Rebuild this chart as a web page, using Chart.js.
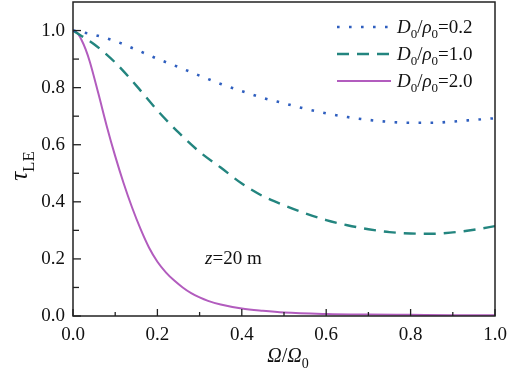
<!DOCTYPE html>
<html>
<head>
<meta charset="utf-8">
<script src="https://cdn.jsdelivr.net/npm/chart.js@4.4.0/dist/chart.umd.min.js"></script>
<style>
  body { margin: 0; background: #fff; }
  #wrap { width: 520px; height: 376px; }
</style>
</head>
<body>
<div id="wrap"><canvas id="tauCanvas"></canvas></div>
<script>
// Ω/Ω0 values for the two slower curves
var omegaCoarse = [0, 0.05, 0.1, 0.15, 0.2, 0.25, 0.3, 0.35, 0.4, 0.45, 0.5,
                   0.55, 0.6, 0.65, 0.7, 0.75, 0.8, 0.85, 0.9, 0.95, 1.0];
// D0/rho0 = 0.2
var tauD02 = [1.0, 0.985, 0.963, 0.933, 0.901, 0.872, 0.842, 0.813, 0.788, 0.764, 0.745,
              0.726, 0.71, 0.697, 0.687, 0.68, 0.677, 0.677, 0.681, 0.687, 0.693];
// D0/rho0 = 1.0
var tauD10 = [1.0, 0.952, 0.888, 0.807, 0.72, 0.643, 0.575, 0.52, 0.464, 0.42, 0.388,
              0.36, 0.336, 0.318, 0.304, 0.294, 0.289, 0.288, 0.293, 0.302, 0.315];
// D0/rho0 = 2.0 drops fast, so it is read on a finer grid
var omegaFine = [0, 0.01, 0.02, 0.03, 0.04, 0.06, 0.08, 0.1, 0.12, 0.14, 0.16, 0.18, 0.2, 0.22, 0.24,
                 0.26, 0.28, 0.3, 0.32, 0.35, 0.4, 0.45, 0.5, 0.6, 0.7, 0.8, 0.9, 1.0];
var tauD20 = [1.0, 0.992, 0.968, 0.934, 0.89, 0.78, 0.665, 0.56, 0.465, 0.38, 0.305, 0.24, 0.19, 0.153, 0.124,
              0.10, 0.08, 0.065, 0.053, 0.04, 0.026, 0.018, 0.012, 0.007, 0.005, 0.004, 0.003, 0.003];

var ratioLabels = ['0.2', '1.0', '2.0'];
var xTicks = [0, 0.1, 0.2, 0.3, 0.4, 0.5, 0.6, 0.7, 0.8, 0.9, 1.0];
var yTicks = [0, 0.1, 0.2, 0.3, 0.4, 0.5, 0.6, 0.7, 0.8, 0.9, 1.0];

var FONT = '"Liberation Serif", "Times New Roman", serif';

function toPoints(xs, ys) {
    var pts = [];
    for (var i = 0; i < xs.length; i++) pts.push({x: xs[i], y: ys[i]});
    return pts;
}

function isMajor(v) {
    return Math.round(v * 10) % 2 === 0;
}

function fontFor(kind, size) {
    if (kind === 's') return Math.round(size * 0.68) + 'px ' + FONT;
    if (kind === 'i') return 'italic ' + size + 'px ' + FONT;
    return size + 'px ' + FONT;
}

// draw text with italic parts and subscripts
function richText(ctx, parts, x, y, size, align) {
    var widths = [], total = 0;
    parts.forEach(function(p) {
        ctx.font = fontFor(p[1], size);
        var w = ctx.measureText(p[0]).width;
        widths.push(w);
        total += w;
    });
    var cx = align === 'center' ? x - total / 2 : x;
    ctx.textAlign = 'left';
    ctx.textBaseline = 'alphabetic';
    parts.forEach(function(p, i) {
        ctx.font = fontFor(p[1], size);
        ctx.fillText(p[0], cx, p[1] === 's' ? y + size * 0.28 : y);
        cx += widths[i];
    });
}

var framePlugin = {
    id: 'frame',
    afterDraw: function(chart) {
        var ctx = chart.ctx;
        var a = chart.chartArea;
        var xs = chart.scales.x, ys = chart.scales.y;
        ctx.save();
        ctx.strokeStyle = '#222';
        ctx.lineWidth = 1.5;
        ctx.strokeRect(a.left, a.top, a.right - a.left, a.bottom - a.top);

        // inward ticks
        ctx.lineWidth = 1.3;
        xTicks.forEach(function(v) {
            var px = xs.getPixelForValue(v);
            var len = isMajor(v) ? 7 : 4;
            ctx.beginPath();
            ctx.moveTo(px, a.bottom);
            ctx.lineTo(px, a.bottom - len);
            ctx.stroke();
        });
        yTicks.forEach(function(v) {
            var py = ys.getPixelForValue(v);
            var len = isMajor(v) ? 8 : 6;
            ctx.beginPath();
            ctx.moveTo(a.left, py);
            ctx.lineTo(a.left + len, py);
            ctx.stroke();
        });

        ctx.fillStyle = '#111';
        // axis titles
        richText(ctx, [['Ω', 'i'], ['/', 'n'], ['Ω', 'i'], ['0', 's']], (a.left + a.right) / 2 + 4, 362, 20, 'center');
        ctx.save();
        ctx.translate(27, 166);
        ctx.rotate(-Math.PI / 2);
        richText(ctx, [['τ', 'i'], ['LE', 's']], 0, 0, 25, 'center');
        ctx.restore();

        // annotation
        richText(ctx, [['z', 'i'], ['=20 m', 'n']], xs.getPixelForValue(0.313), ys.getPixelForValue(0.183), 19, 'left');

        // legend
        var rows = [27, 54, 81];
        chart.data.datasets.forEach(function(ds, i) {
            ctx.save();
            ctx.strokeStyle = ds.borderColor;
            ctx.lineWidth = ds.borderWidth;
            ctx.setLineDash(ds.borderDash || []);
            ctx.beginPath();
            ctx.moveTo(337, rows[i]);
            ctx.lineTo(391, rows[i]);
            ctx.stroke();
            ctx.restore();
            richText(ctx, [['D', 'i'], ['0', 's'], ['/', 'n'], ['ρ', 'i'], ['0', 's'], ['=' + ratioLabels[i], 'n']],
                     397, rows[i] + 6, 19, 'left');
        });
        ctx.restore();
    }
};

var ctx = document.getElementById('tauCanvas');
var tauChart = new Chart(ctx, {
    type: 'line',
    data: {
        datasets: [{
            label: 'D0/rho0=' + ratioLabels[0],
            data: toPoints(omegaCoarse, tauD02),
            borderColor: '#2f5fbf',
            borderWidth: 2.6,
            borderDash: [2.6, 9.4],
            borderCapStyle: 'butt'
        }, {
            label: 'D0/rho0=' + ratioLabels[1],
            data: toPoints(omegaCoarse, tauD10),
            borderColor: '#23857f',
            borderWidth: 2.4,
            borderDash: [12, 8]
        }, {
            label: 'D0/rho0=' + ratioLabels[2],
            data: toPoints(omegaFine, tauD20),
            borderColor: '#b25cbe',
            borderWidth: 2
        }]
    },
    options: {
        responsive: true,
        maintainAspectRatio: false,
        animation: false,
        layout: { padding: { top: 2, right: 25, left: 1, bottom: 0 } },
        elements: {
            point: { radius: 0 },
            line: { cubicInterpolationMode: 'monotone', fill: false }
        },
        plugins: {
            legend: { display: false },
            tooltip: { enabled: false }
        },
        scales: {
            x: {
                type: 'linear',
                min: 0,
                max: 1,
                grid: { display: false, drawTicks: false },
                border: { display: false },
                afterBuildTicks: function(scale) {
                    scale.ticks = xTicks.map(function(v) { return {value: v}; });
                },
                afterFit: function(scale) { scale.height = 60; },
                ticks: {
                    padding: 8,
                    maxRotation: 0,
                    autoSkip: false,
                    color: '#111',
                    font: { family: FONT, size: 19 },
                    callback: function(v) { return isMajor(v) ? v.toFixed(1) : ''; }
                }
            },
            y: {
                min: 0,
                max: 1.1,
                grid: { display: false, drawTicks: false },
                border: { display: false },
                afterBuildTicks: function(scale) {
                    scale.ticks = yTicks.map(function(v) { return {value: v}; });
                },
                afterFit: function(scale) {
                    scale.width = 72;
                    // no extra room above the top label, the frame sits at the top edge
                    scale.paddingTop = 0;
                    scale.paddingBottom = 0;
                },
                ticks: {
                    padding: 8,
                    autoSkip: false,
                    color: '#111',
                    font: { family: FONT, size: 19 },
                    callback: function(v) { return isMajor(v) ? v.toFixed(1) : ''; }
                }
            }
        }
    },
    plugins: [framePlugin]
});
</script>
</body>
</html>
